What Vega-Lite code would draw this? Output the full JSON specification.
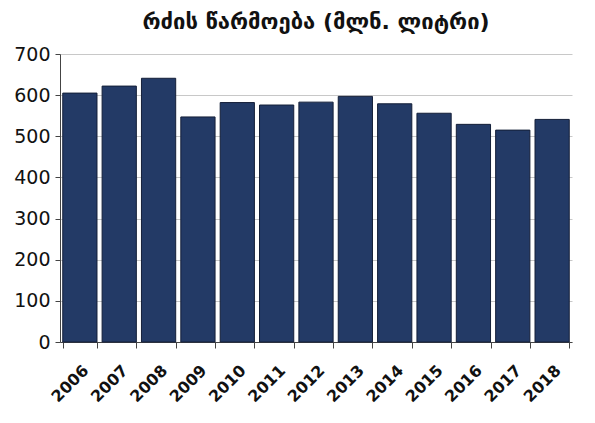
{
  "$schema": "https://vega.github.io/schema/vega-lite/v6.json",
  "width": 512,
  "height": 288,
  "autosize": "none",
  "padding": {"left": 60, "top": 54, "right": 23, "bottom": 81},
  "background": "white",
  "title": {
    "text": "რძის წარმოება (მლნ. ლიტრი)",
    "font": "DejaVu Sans",
    "fontSize": 22,
    "fontWeight": "bold",
    "color": "#111111",
    "anchor": "middle",
    "offset": 11
  },
  "data": {
    "values": [
      {"year": "2006", "value": 605},
      {"year": "2007", "value": 622},
      {"year": "2008", "value": 641},
      {"year": "2009", "value": 547},
      {"year": "2010", "value": 582},
      {"year": "2011", "value": 576},
      {"year": "2012", "value": 583},
      {"year": "2013", "value": 597},
      {"year": "2014", "value": 579},
      {"year": "2015", "value": 556},
      {"year": "2016", "value": 529},
      {"year": "2017", "value": 515},
      {"year": "2018", "value": 541}
    ]
  },
  "mark": {"type": "bar", "color": "#233a66", "stroke": "#141f38", "strokeWidth": 1},
  "encoding": {
    "x": {
      "field": "year",
      "type": "ordinal",
      "scale": {"paddingInner": 0.13, "paddingOuter": 0.07},
      "axis": {
        "title": null,
        "labelAngle": -45,
        "labelAlign": "right",
        "labelBaseline": "top",
        "labelPadding": 14,
        "labelDx": -4,
        "labelFont": "DejaVu Sans",
        "labelFontSize": 16,
        "labelFontWeight": "bold",
        "labelColor": "#111111",
        "tickBand": "extent",
        "tickSize": 6,
        "tickColor": "#444444",
        "domainColor": "#444444",
        "grid": false
      }
    },
    "y": {
      "field": "value",
      "type": "quantitative",
      "scale": {"domain": [0, 700]},
      "axis": {
        "title": null,
        "values": [0, 100, 200, 300, 400, 500, 600, 700],
        "labelFont": "DejaVu Sans",
        "labelFontSize": 19,
        "labelColor": "#111111",
        "labelPadding": 5,
        "tickSize": 5,
        "tickColor": "#444444",
        "domainColor": "#444444",
        "gridColor": "#c8c8c8",
        "grid": true
      }
    }
  },
  "config": {"view": {"stroke": null}}
}
